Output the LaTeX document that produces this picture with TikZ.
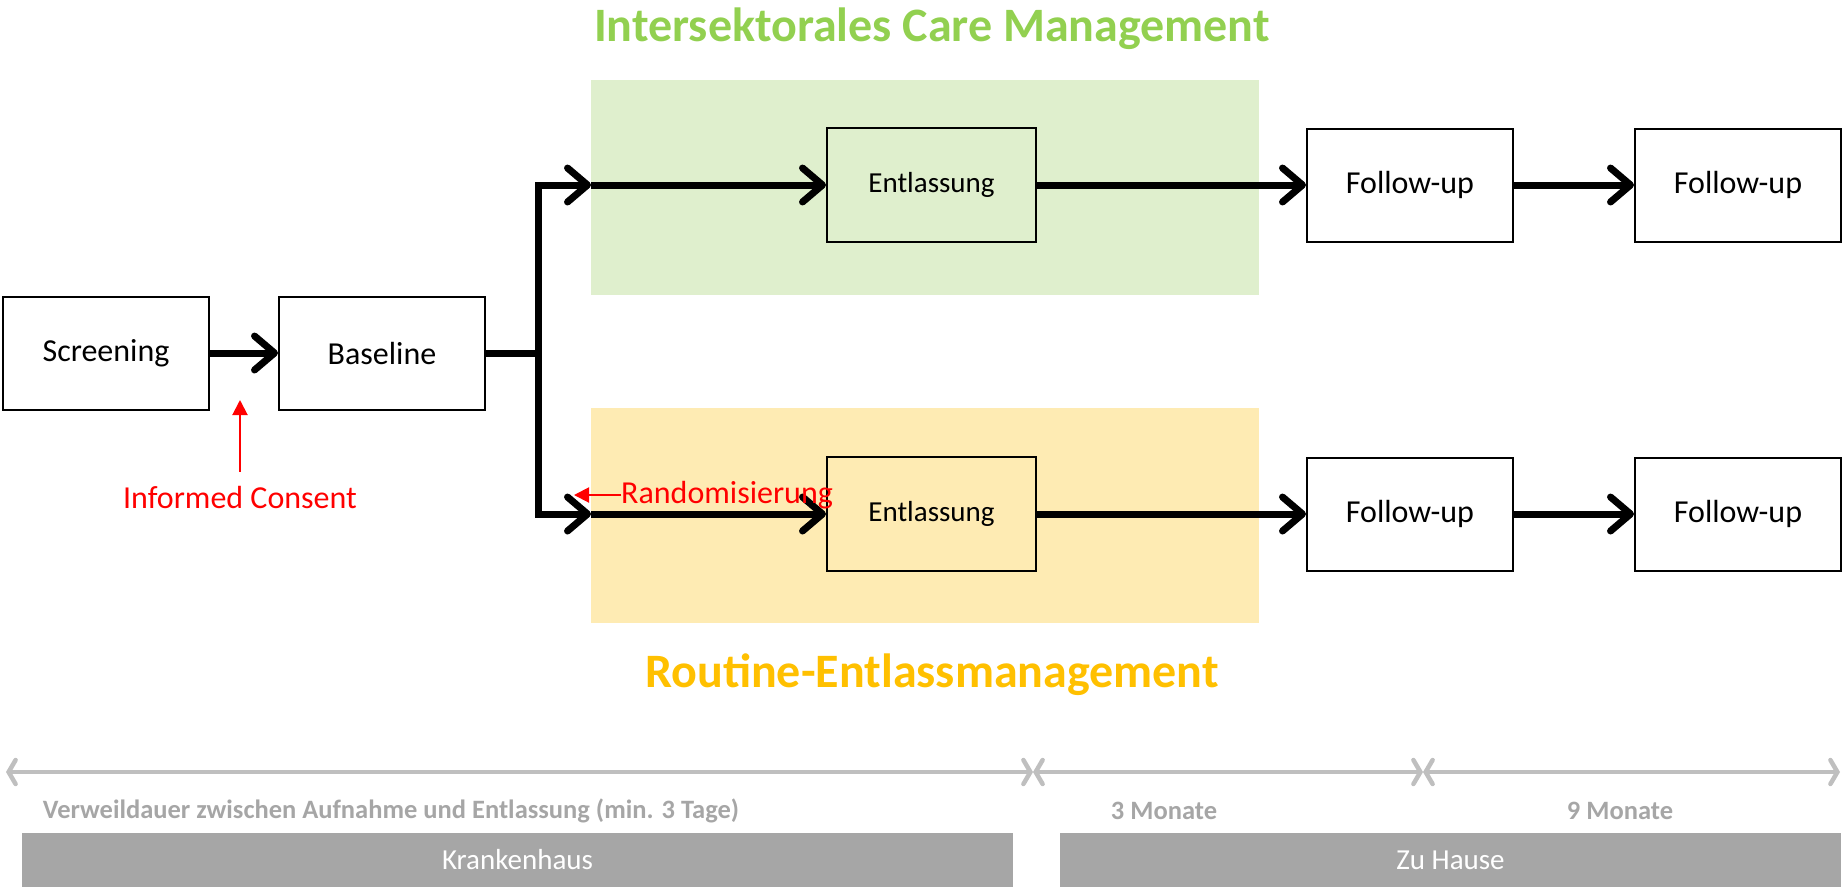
\documentclass[tikz,border=0pt]{standalone}
\usepackage{fontspec}
\setmainfont{Carlito}
\usetikzlibrary{arrows.meta}
\definecolor{cmgreen}{HTML}{92D050}
\definecolor{greenbg}{HTML}{DFEFCD}
\definecolor{yellowbg}{HTML}{FEEBB3}
\definecolor{cmorange}{HTML}{FFC000}
\definecolor{bargray}{HTML}{A6A6A6}
\definecolor{arrgray}{HTML}{BFBFBF}
\definecolor{txtgray}{HTML}{A6A6A6}
\begin{document}
\begin{tikzpicture}[x=1pt,y=-1pt,
  box/.style={draw=black, line width=2pt, minimum width=206pt, minimum height=113pt, inner sep=0pt, font=\fontsize{32}{38}\selectfont},
  ebox/.style={box, minimum width=209pt, minimum height=114pt, font=\fontsize{29}{34}\selectfont},
  blkline/.style={line width=7pt, line join=miter},
  blk/.style={line width=7pt, line join=miter, -{Straight Barb[length=20pt,width=34pt,line cap=round,line join=round]}},
  grayarr/.style={draw=arrgray, line width=4.5pt, {Straight Barb[length=7pt,width=24pt,line cap=round]}-{Straight Barb[length=7pt,width=24pt,line cap=round]}},
  redarr/.style={draw=red, line width=2pt, -{Triangle[length=15pt,width=15pt]}},
  redtxt/.style={text=red, inner sep=0pt, font=\fontsize{32}{38}\selectfont},
  graylbl/.style={text=txtgray, inner sep=0pt, font=\bfseries\fontsize{26.5}{32}\selectfont},
  bar/.style={fill=bargray, draw=none, minimum height=54pt, inner sep=0pt, text=white, font=\fontsize{29}{34}\selectfont},
  title/.style={inner sep=0pt, font=\bfseries\fontsize{48}{56}\selectfont}
]
\useasboundingbox (0,0) rectangle (1843,887);

% backgrounds
\fill[greenbg] (591,80) rectangle (1259,295);
\fill[yellowbg] (591,408) rectangle (1259,623);

% titles
\node[title, text=cmgreen] (t1) at (932,29) {Intersektorales Care Management};
\node[title, text=cmorange] (t2) at (932,675) {Routine-Entlassmanagement};

% boxes
\node[box] (scr) at (106,353) {Screening};
\node[box] (bas) at (382,353) {Baseline};
\node[ebox] (e1) at (931.5,185) {Entlassung};
\node[ebox] (e2) at (931.5,514) {Entlassung};
\node[box] (f11) at (1410,185) {Follow-up};
\node[box] (f12) at (1738,185) {Follow-up};
\node[box] (f21) at (1410,514) {Follow-up};
\node[box] (f22) at (1738,514) {Follow-up};

% connectors
\coordinate (j) at (538,353);
\coordinate (g1) at (591,185);
\coordinate (g2) at (591,514);
\draw[blk] (scr.east) -- (bas.west);
\draw[blkline] (bas.east) -- (j);
\draw[blk] (j) |- (g1);
\draw[blk] (j) |- (g2);
\draw[blk] (g1) -- (e1.west);
\draw[blk] (g2) -- (e2.west);
\draw[blk] (e1.east) -- (f11.west);
\draw[blk] (f11.east) -- (f12.west);
\draw[blk] (e2.east) -- (f21.west);
\draw[blk] (f21.east) -- (f22.west);

% red annotations
\node[redtxt] (ic) at (240,497) {Informed Consent};
\coordinate (ictip) at (240,400);
\draw[redarr] ([yshift=14pt]ic.north) -- (ictip);
\node[redtxt, anchor=west] (rnd) at (621,495) {Randomisierung};
\coordinate (rndtip) at (574,495);
\draw[redarr] (rnd.west) -- (rndtip);

% timeline arrows
\coordinate (a0) at (6,772);
\coordinate (a1) at (1033,772);
\coordinate (a2) at (1423,772);
\coordinate (a3) at (1840,772);
\draw[grayarr] (a0) -- (a1);
\draw[grayarr] (a1) -- (a2);
\draw[grayarr] (a2) -- (a3);

\node[graylbl] (l1) at (391,811) {Verweildauer zwischen Aufnahme und Entlassung (min. 3 Tage)};
\node[graylbl] (l2) at (1164,811) {3 Monate};
\node[graylbl] (l3) at (1620,811) {9 Monate};

% bars
\node[bar, minimum width=991pt] (kh) at (517.5,860) {Krankenhaus};
\node[bar, minimum width=781pt] (zh) at (1450.5,860) {Zu Hause};
\end{tikzpicture}
\end{document}
